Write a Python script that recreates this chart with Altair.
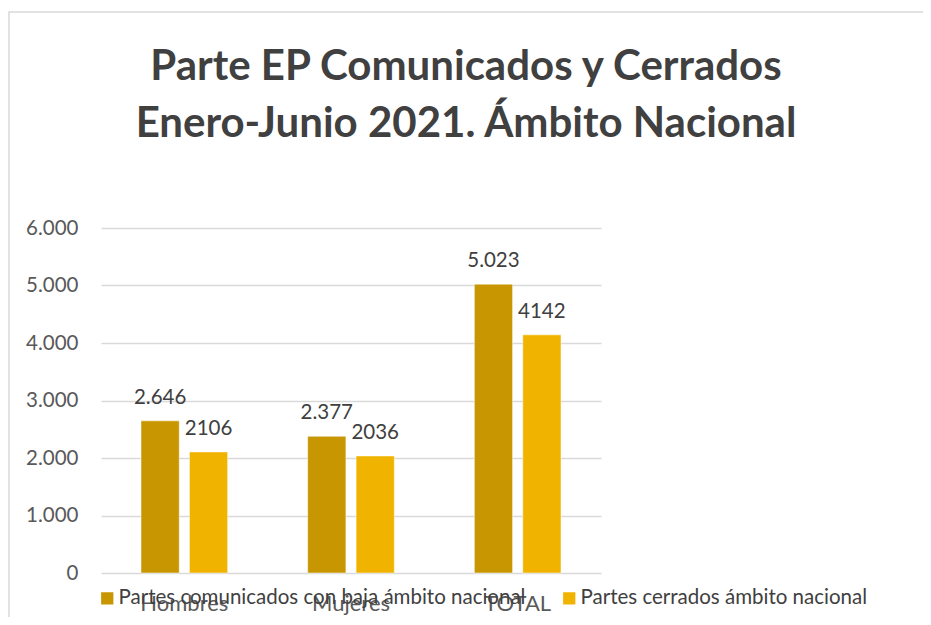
import altair as alt
import pandas as pd

title_lines = ["Parte EP Comunicados y Cerrados", "Enero-Junio 2021. Ámbito Nacional"]
categories = ["Hombres", "Mujeres", "TOTAL"]
series = ["Partes comunicados con baja ámbito nacional", "Partes cerrados ámbito nacional"]
comunicados = [2646, 2377, 5023]
cerrados = [2106, 2036, 4142]
labels_comunicados = ["2.646", "2.377", "5.023"]
labels_cerrados = ["2106", "2036", "4142"]
colors = ["#C89600", "#F0B400"]

rows = []
for i, c in enumerate(categories):
    rows.append({"cat": c, "serie": series[0], "valor": comunicados[i], "lab": labels_comunicados[i]})
    rows.append({"cat": c, "serie": series[1], "valor": cerrados[i], "lab": labels_cerrados[i]})
df = pd.DataFrame(rows)

x = alt.X("cat:N", sort=categories, title=None,
          scale=alt.Scale(paddingInner=0.48, paddingOuter=0.24),
          axis=alt.Axis(labelAngle=0, domain=False, ticks=False, labelFontSize=22,
                        labelColor="#595959", labelPadding=20, labelFont="Lato"))
xoff = alt.XOffset("serie:N", sort=series, scale=alt.Scale(paddingInner=0.21))
y = alt.Y("valor:Q", title=None,
          scale=alt.Scale(domain=[0, 6000]),
          axis=alt.Axis(values=[0, 1000, 2000, 3000, 4000, 5000, 6000], domain=False, ticks=False,
                        labelExpr="replace(format(datum.value, ','), ',', '.')",
                        labelFontSize=20.5, labelColor="#595959", labelPadding=23, labelFont="Lato",
                        gridColor="#D9D9D9", gridWidth=1.5))

color = alt.Color("serie:N", sort=series, title=None,
                  scale=alt.Scale(domain=series, range=colors),
                  legend=alt.Legend(orient="none", legendX=-4, legendY=360, direction="horizontal",
                                    symbolType="square", symbolSize=150, symbolStrokeWidth=0,
                                    labelFontSize=20.5, labelColor="#404040", labelFont="Lato",
                                    columnPadding=33, labelLimit=600, symbolOffset=0, labelOffset=1))

frame = alt.Chart(pd.DataFrame({"k": [0]})).mark_rect(fill=None, stroke="#D9D9D9", strokeWidth=1.5).encode(
    x=alt.value(-92), x2=alt.value(829), y=alt.value(-216), y2=alt.value(420))

t1 = alt.Chart(pd.DataFrame({"t": [title_lines[0]]})).mark_text(
    font="Lato", fontSize=42, fontWeight="bold", color="#404040", align="center", baseline="alphabetic").encode(
    text="t:N", x=alt.value(365), y=alt.value(-148))
t2 = alt.Chart(pd.DataFrame({"t": [title_lines[1]]})).mark_text(
    font="Lato", fontSize=42, fontWeight="bold", color="#404040", align="center", baseline="alphabetic").encode(
    text="t:N", x=alt.value(365), y=alt.value(-91))

bars = alt.Chart(df).mark_bar(stroke="white", strokeWidth=0.5).encode(x=x, xOffset=xoff, y=y, color=color)
text = alt.Chart(df).mark_text(baseline="alphabetic", dy=-17, fontSize=20.5, color="#404040", font="Lato").encode(
    x=alt.X("cat:N", sort=categories), xOffset=xoff, y="valor:Q", text="lab:N")

chart = alt.layer(frame, t1, t2, bars, text).properties(
    width=500, height=345,
    autosize=alt.AutoSizeParams(type="none"),
    padding={"left": 93, "top": 220, "right": 322, "bottom": 44},
).configure_view(stroke=None)

chart.save("out.html", embed_options={"renderer": "svg", "actions": False})
